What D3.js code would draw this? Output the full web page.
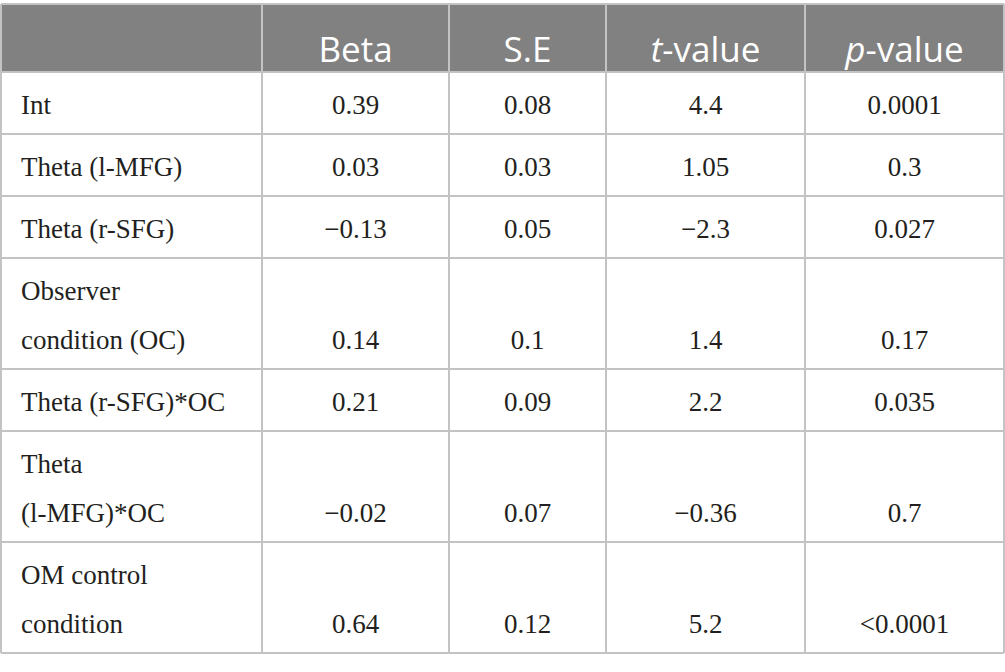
<!DOCTYPE html>
<html>
<head>
<meta charset="utf-8">
<script src="https://cdn.jsdelivr.net/npm/d3@7"></script>
<style>
  body { margin: 0; background: #fff; }
</style>
</head>
<body>
<div id="container"></div>
<script>
// table content
const headers = ['', 'Beta', 'S.E', 't-value', 'p-value'];
const rowLabels = [
  ['Int'],
  ['Theta (l-MFG)'],
  ['Theta (r-SFG)'],
  ['Observer', 'condition (OC)'],
  ['Theta (r-SFG)*OC'],
  ['Theta', '(l-MFG)*OC'],
  ['OM control', 'condition']
];
const betaValues = ['0.39', '0.03', '\u22120.13', '0.14', '0.21', '\u22120.02', '0.64'];
const seValues = ['0.08', '0.03', '0.05', '0.1', '0.09', '0.07', '0.12'];
const tValues = ['4.4', '1.05', '\u22122.3', '1.4', '2.2', '\u22120.36', '5.2'];
const pValues = ['0.0001', '0.3', '0.027', '0.17', '0.035', '0.7', '<0.0001'];

function draw() {
  const width = 1005, height = 672;
  const svg = d3.select('#container')
    .append('svg')
    .attr('width', width)
    .attr('height', height);

  // column edges
  const colEdges = [1, 262, 449, 606, 805, 1004];
  const headerTop = 4, headerH = 68;
  const rowPad = 13, lineH = 49;
  const gridColor = '#c3c3c3';

  // row edges from number of lines in each label
  let rowTops = [];
  let y = headerTop + headerH;
  rowLabels.forEach(lines => {
    rowTops.push(y);
    y += rowPad + lines.length * lineH;
  });
  const tableBottom = y;

  const colX = d3.scaleOrdinal().domain(d3.range(5)).range(colEdges.slice(0, 5));
  const colW = i => colEdges[i + 1] - colEdges[i];

  // header band
  svg.append('rect')
    .attr('x', colEdges[0])
    .attr('y', headerTop)
    .attr('width', colEdges[5] - colEdges[0])
    .attr('height', headerH)
    .attr('fill', '#818181');

  // horizontal lines
  const hLines = [headerTop, headerTop + headerH, ...rowTops.slice(1), tableBottom];
  svg.selectAll('.hline')
    .data(hLines)
    .enter()
    .append('line')
    .attr('x1', colEdges[0])
    .attr('x2', colEdges[5])
    .attr('y1', d => d)
    .attr('y2', d => d)
    .attr('stroke', gridColor)
    .attr('stroke-width', 2);

  // vertical lines
  svg.selectAll('.vline')
    .data(colEdges)
    .enter()
    .append('line')
    .attr('x1', d => d)
    .attr('x2', d => d)
    .attr('y1', headerTop)
    .attr('y2', tableBottom)
    .attr('stroke', gridColor)
    .attr('stroke-width', 2);

  // header text
  const ht = svg.selectAll('.htext')
    .data(headers)
    .enter()
    .append('text')
    .attr('x', (d, i) => colX(i) + colW(i) / 2)
    .attr('y', headerTop + 58)
    .attr('text-anchor', 'middle')
    .attr('fill', '#fff')
    .attr('font-family', '"Open Sans", sans-serif')
    .attr('font-size', 35);
  ht.each(function(d) {
    const el = d3.select(this);
    const m = d.match(/^([tp])(-value)$/);
    if (m) {
      el.append('tspan').attr('font-style', 'italic').text(m[1]);
      el.append('tspan').text(m[2]);
    } else {
      el.text(d);
    }
  });

  // body
  const columns = [betaValues, seValues, tValues, pValues];
  const serif = '"Liberation Serif", "Times New Roman", serif';
  rowLabels.forEach((lines, r) => {
    const top = rowTops[r];
    svg.append('g')
      .selectAll('text')
      .data(lines)
      .enter()
      .append('text')
      .attr('x', colEdges[0] + 20)
      .attr('y', (d, k) => top + 42 + k * lineH)
      .attr('font-family', serif)
      .attr('font-size', 27)
      .attr('fill', '#231f20')
      .text(d => d);

    const baseY = top + 42 + (lines.length - 1) * lineH;
    columns.forEach((vals, c) => {
      svg.append('text')
        .attr('x', colX(c + 1) + colW(c + 1) / 2)
        .attr('y', baseY)
        .attr('text-anchor', 'middle')
        .attr('font-family', serif)
        .attr('font-size', 27)
        .attr('fill', '#231f20')
        .text(vals[r]);
    });
  });
}

draw();
</script>
</body>
</html>
